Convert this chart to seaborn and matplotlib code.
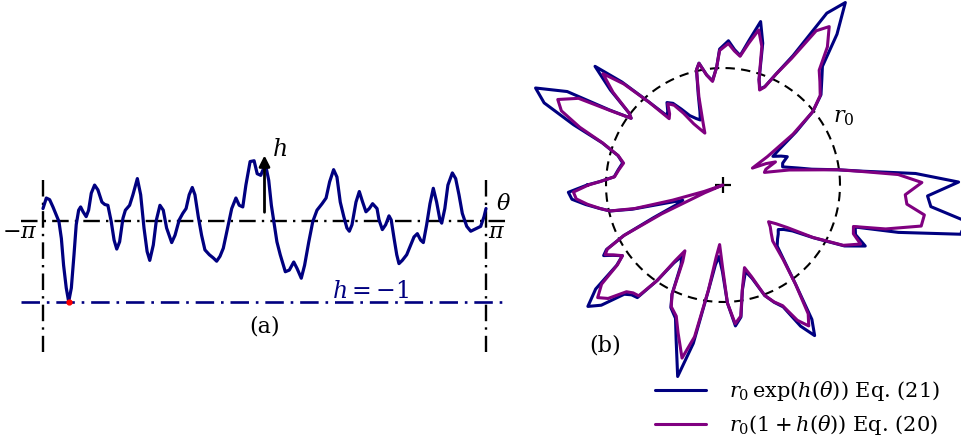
import numpy as np
import pandas as pd
import matplotlib
matplotlib.use('Agg')
import matplotlib.pyplot as plt
import seaborn as sns

sns.set_style('white')
plt.rcParams['font.family'] = ['DejaVu Serif']
plt.rcParams['mathtext.fontset'] = 'dejavuserif'
plt.rcParams['text.color'] = 'black'

# h(theta); theta given in units of pi
theta_pi = [-1.000, -0.985, -0.970, -0.955, -0.940, -0.928, -0.917, -0.907, -0.895, -0.884,
            -0.872, -0.860, -0.850, -0.839, -0.830, -0.819, -0.805, -0.794, -0.782, -0.767,
            -0.752, -0.734, -0.721, -0.707, -0.692, -0.679, -0.667, -0.654, -0.639, -0.628,
            -0.609, -0.594, -0.574, -0.559, -0.544, -0.530, -0.518, -0.502, -0.488, -0.472,
            -0.457, -0.442, -0.419, -0.404, -0.385, -0.369, -0.354, -0.340, -0.326, -0.314,
            -0.299, -0.284, -0.269, -0.249, -0.231, -0.216, -0.201, -0.186, -0.168, -0.148,
            -0.129, -0.114, -0.098, -0.084, -0.065, -0.047, -0.033, -0.017, 0.004, 0.019,
            0.031, 0.042, 0.056, 0.071, 0.094, 0.112, 0.132, 0.147, 0.166, 0.181,
            0.200, 0.218, 0.237, 0.260, 0.278, 0.294, 0.312, 0.327, 0.342, 0.358,
            0.372, 0.383, 0.395, 0.413, 0.428, 0.443, 0.458, 0.473, 0.488, 0.508,
            0.517, 0.532, 0.547, 0.562, 0.572, 0.585, 0.597, 0.607, 0.622, 0.642,
            0.660, 0.675, 0.690, 0.705, 0.717, 0.732, 0.747, 0.762, 0.777, 0.792,
            0.800, 0.814, 0.828, 0.848, 0.863, 0.878, 0.893, 0.913, 0.931, 0.954,
            0.976, 0.991, 1.000]
h_vals = [0.15, 0.28, 0.26, 0.17, 0.07, -0.01, -0.22, -0.55, -0.83, -1.00,
          -0.83, -0.42, -0.05, 0.13, 0.17, 0.11, 0.05, 0.13, 0.34, 0.44,
          0.38, 0.23, 0.20, 0.19, -0.01, -0.24, -0.35, -0.26, 0.03, 0.13,
          0.19, 0.32, 0.52, 0.32, -0.09, -0.38, -0.49, -0.30, 0.01, 0.19,
          0.13, -0.09, -0.27, -0.18, 0.01, 0.09, 0.15, 0.32, 0.41, 0.32,
          0.05, -0.18, -0.36, -0.42, -0.46, -0.50, -0.44, -0.34, -0.11, 0.15,
          0.28, 0.19, 0.17, 0.44, 0.73, 0.74, 0.58, 0.56, 0.70, 0.50,
          0.19, -0.01, -0.26, -0.42, -0.63, -0.61, -0.51, -0.59, -0.71, -0.55,
          -0.26, -0.01, 0.13, 0.21, 0.28, 0.48, 0.63, 0.54, 0.23, 0.05,
          -0.09, -0.13, -0.05, 0.23, 0.36, 0.23, 0.11, 0.15, 0.21, 0.15,
          0.01, -0.11, -0.05, 0.06, 0.01, -0.22, -0.42, -0.53, -0.49, -0.42,
          -0.30, -0.20, -0.16, -0.24, -0.27, -0.05, 0.21, 0.40, 0.23, 0.01,
          -0.03, 0.15, 0.44, 0.59, 0.52, 0.32, 0.09, -0.07, -0.13, -0.10,
          -0.07, 0.05, 0.15]

legend_labels = [r'$r_0\,\exp(h(\theta))$ Eq. (21)', r'$r_0(1+h(\theta))$ Eq. (20)']
navy = '#000080'
purple = '#800080'

theta = np.array(theta_pi) * np.pi
h = np.array(h_vals)
curve = pd.DataFrame({'theta': theta, 'h': h})
polar = pd.DataFrame({'x_exp': np.exp(h) * np.cos(theta), 'y_exp': np.exp(h) * np.sin(theta),
                      'x_lin': (1 + h) * np.cos(theta), 'y_lin': (1 + h) * np.sin(theta)})

fig = plt.figure(figsize=(9.62, 4.46), dpi=100)

# panel (a): whole-figure axes, scaled so theta=0 sits at x=264.5px
ax = fig.add_axes([0, 0, 1, 1])
ax.set_xlim(-264.5 / 70.51, (962 - 264.5) / 70.51)
ax.set_ylim(-(446 - 220.7) / 81, 220.7 / 81)
ax.axis('off')

dashdot = (0, (7, 2.6, 1, 2.6))
ax.plot([-1.1 * np.pi, 1.1 * np.pi], [0, 0], color='black', lw=1.7, ls=dashdot)
ax.plot([-1.1 * np.pi, 1.1 * np.pi], [-1, -1], color=navy, lw=1.9, ls=dashdot)
for xv in (-np.pi, np.pi):
    ax.plot([xv, xv], [0.5, -1.62], color='black', lw=1.7, ls=dashdot)

sns.lineplot(data=curve, x='theta', y='h', color=navy, lw=2.3, ax=ax,
             sort=False, estimator=None, solid_joinstyle='round')
ax.annotate('', xy=(0, 0.84), xytext=(0, 0.07),
            arrowprops=dict(arrowstyle='-|>', color='black', lw=2.0, mutation_scale=16))
imin = int(np.argmin(h))
ax.plot(theta[imin], h[imin], 'o', color='red', ms=3.5, zorder=5)

ax.text(0.1, 0.88, r'$h$', fontsize=17, ha='left', va='center')
ax.text(-np.pi - 0.08, -0.14, r'$-\pi$', fontsize=16, ha='right', va='center')
ax.text(np.pi + 0.03, -0.14, r'$\pi$', fontsize=16, ha='left', va='center')
ax.text(np.pi + 0.25, 0.2, r'$\theta$', fontsize=16, ha='center', va='center')
ax.text(1.51, -0.87, r'$h=-1$', fontsize=17, color=navy, ha='center', va='center')
ax.text(0, -1.31, '(a)', fontsize=16, ha='center', va='center')

# panel (b): equal-scale axes, r0 = 117px, centred at (723, 185)
bx = fig.add_axes([0, 0, 1, 1])
bx.set_xlim(-723 / 117, (962 - 723) / 117)
bx.set_ylim(-(446 - 185) / 117, 185 / 117)
bx.patch.set_alpha(0)
bx.axis('off')

phi = np.linspace(0, 2 * np.pi, 400)
bx.plot(np.cos(phi), np.sin(phi), color='black', lw=1.5, ls=(0, (4.5, 3)))
bx.plot(0, 0, '+', color='black', ms=11, mew=1.6)

sns.lineplot(data=polar, x='x_exp', y='y_exp', color=navy, lw=2.2, ax=bx,
             sort=False, estimator=None, label=legend_labels[0], solid_joinstyle='round')
sns.lineplot(data=polar, x='x_lin', y='y_lin', color=purple, lw=2.2, ax=bx,
             sort=False, estimator=None, label=legend_labels[1], solid_joinstyle='round')

bx.text(1.03, 0.58, r'$r_0$', fontsize=16, ha='center', va='center')
bx.text(-1.01, -1.37, '(b)', fontsize=16, ha='center', va='center')

bx.legend(loc='upper left', bbox_to_anchor=(655 / 962, 1 - 379 / 446),
          bbox_transform=fig.transFigure, frameon=False, fontsize=15,
          handlelength=2.45, handletextpad=1.1, labelspacing=0.5,
          borderpad=0, borderaxespad=0)

fig.savefig('out.png', dpi=100)
